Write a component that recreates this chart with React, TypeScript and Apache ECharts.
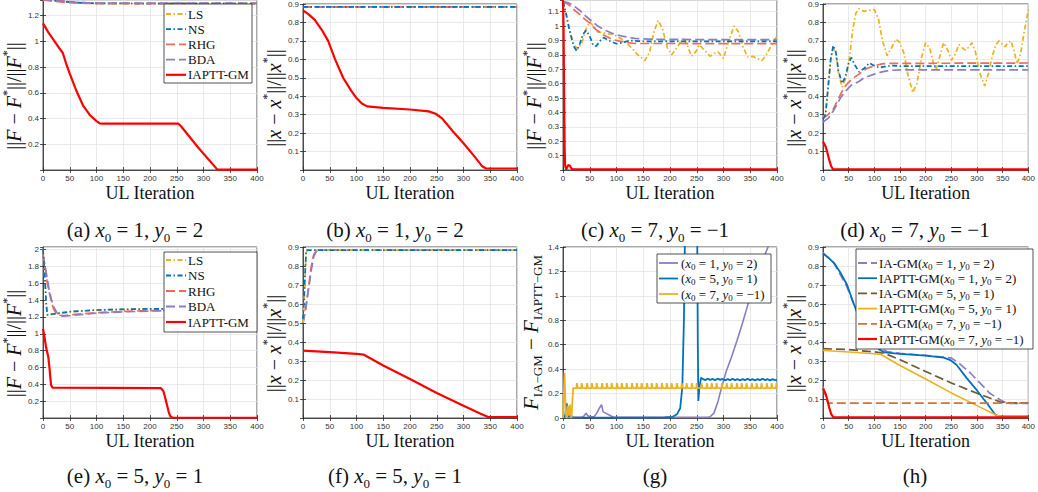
import React, { useEffect, useRef } from "react";
import * as echarts from "echarts";

// ---------- data ----------
const X_MIN = 0;
const X_MAX = 400;
const X_INTERVAL = 50;

// (a) x0=1, y0=2 : ||F-F*||/||F*||
const aLS = [[0, 1.325], [20, 1.318], [40, 1.31], [60, 1.303], [80, 1.299], [100, 1.297], [150, 1.296], [200, 1.295], [400, 1.295]];
const aNS = [[0, 1.325], [20, 1.317], [40, 1.309], [60, 1.302], [80, 1.298], [100, 1.296], [150, 1.295], [200, 1.294], [400, 1.294]];
const aRHG = [[0, 1.322], [20, 1.312], [40, 1.304], [60, 1.299], [80, 1.296], [100, 1.294], [150, 1.293], [400, 1.293]];
const aBDA = [[0, 1.326], [20, 1.32], [40, 1.313], [60, 1.306], [80, 1.301], [100, 1.299], [150, 1.298], [400, 1.297]];
const aIAPTT = [[0, 1.14], [10, 1.07], [20, 1.01], [30, 0.95], [37, 0.91], [43, 0.83], [50, 0.75], [62, 0.62], [75, 0.5], [87, 0.43], [100, 0.38], [106, 0.362], [110, 0.36], [253, 0.36], [258, 0.34], [290, 0.175], [326, 0.003], [400, 0.003]];

// (b) x0=1, y0=2 : ||x-x*||/||x*||
const bLS = [[0, 0.884], [400, 0.884]];
const bNS = [[0, 0.884], [400, 0.884]];
const bRHG = [[0, 0.884], [400, 0.884]];
const bBDA = [[0, 0.884], [400, 0.884]];
const bIAPTT = [[0, 0.865], [10, 0.845], [22, 0.814], [35, 0.76], [47, 0.7], [60, 0.6], [75, 0.5], [90, 0.43], [100, 0.39], [110, 0.36], [120, 0.345], [150, 0.337], [200, 0.328], [235, 0.318], [248, 0.305], [260, 0.28], [280, 0.21], [300, 0.145], [320, 0.075], [335, 0.02], [342, 0.008], [400, 0.008]];

// (c) x0=7, y0=-1 : ||F-F*||/||F*||
const cLS = [[0, 1.17], [5, 1.1], [12, 0.98], [20, 0.87], [28, 0.84], [35, 0.88], [42, 0.97], [50, 1.03], [57, 1.0], [65, 0.96], [80, 0.95], [95, 0.94], [110, 0.91], [125, 0.86], [140, 0.8], [153, 0.76], [162, 0.82], [170, 0.96], [178, 1.04], [186, 0.98], [195, 0.85], [203, 0.8], [213, 0.85], [225, 0.92], [233, 0.86], [240, 0.79], [248, 0.82], [255, 0.87], [265, 0.83], [275, 0.79], [283, 0.81], [290, 0.82], [300, 0.775], [310, 0.9], [320, 1.0], [328, 0.96], [337, 0.85], [345, 0.785], [355, 0.79], [362, 0.775], [372, 0.76], [380, 0.8], [390, 0.87], [400, 0.93]];
const cNS = [[0, 1.17], [5, 1.1], [12, 0.97], [20, 0.86], [25, 0.83], [30, 0.86], [37, 0.94], [43, 0.97], [50, 0.93], [56, 0.87], [62, 0.86], [70, 0.9], [76, 0.92], [85, 0.9], [100, 0.877], [112, 0.885], [125, 0.9], [140, 0.895], [170, 0.893], [400, 0.893]];
const cRHG = [[0, 1.17], [10, 1.15], [20, 1.115], [30, 1.085], [40, 1.05], [50, 1.02], [60, 0.98], [75, 0.94], [90, 0.91], [105, 0.895], [120, 0.885], [135, 0.879], [400, 0.878]];
const cBDA = [[0, 1.17], [9, 1.163], [20, 1.14], [31, 1.11], [42, 1.07], [53, 1.037], [65, 1.0], [81, 0.967], [95, 0.945], [110, 0.93], [134, 0.914], [160, 0.909], [200, 0.907], [400, 0.905]];
const cIAPTT = [[0, 1.18], [1, 1.0], [2, 0.55], [3, 0.15], [4, 0.03], [6, 0.003], [8, 0.02], [10, 0.035], [13, 0.03], [16, 0.008], [20, 0.005], [400, 0.005]];

// (d) x0=7, y0=-1 : ||x-x*||/||x*||
const dLS = [[0, 0.28], [5, 0.31], [10, 0.45], [15, 0.6], [20, 0.66], [25, 0.63], [30, 0.53], [37, 0.45], [45, 0.5], [52, 0.62], [58, 0.76], [64, 0.85], [70, 0.875], [80, 0.86], [90, 0.865], [100, 0.87], [108, 0.82], [116, 0.7], [125, 0.62], [133, 0.66], [142, 0.71], [150, 0.69], [158, 0.63], [165, 0.52], [175, 0.42], [183, 0.47], [192, 0.61], [200, 0.69], [208, 0.66], [215, 0.58], [220, 0.54], [228, 0.62], [235, 0.69], [243, 0.65], [250, 0.595], [258, 0.63], [265, 0.68], [272, 0.66], [278, 0.65], [285, 0.67], [290, 0.69], [297, 0.64], [305, 0.53], [315, 0.455], [322, 0.52], [330, 0.62], [337, 0.68], [343, 0.7], [350, 0.68], [355, 0.668], [360, 0.69], [366, 0.7], [372, 0.65], [378, 0.575], [385, 0.63], [392, 0.75], [400, 0.87]];
const dNS = [[0, 0.276], [5, 0.3], [10, 0.45], [15, 0.6], [20, 0.675], [25, 0.64], [30, 0.54], [37, 0.47], [43, 0.5], [50, 0.58], [55, 0.61], [62, 0.57], [70, 0.532], [80, 0.55], [90, 0.58], [100, 0.565], [110, 0.555], [120, 0.56], [135, 0.566], [150, 0.563], [400, 0.563]];
const dRHG = [[0, 0.28], [10, 0.3], [20, 0.33], [27, 0.37], [37, 0.425], [45, 0.46], [55, 0.49], [70, 0.52], [85, 0.55], [100, 0.565], [115, 0.575], [130, 0.578], [400, 0.58]];
const dBDA = [[0, 0.26], [10, 0.28], [20, 0.32], [35, 0.395], [45, 0.43], [55, 0.46], [70, 0.48], [80, 0.5], [100, 0.52], [115, 0.532], [130, 0.54], [150, 0.543], [400, 0.543]];
const dIAPTT = [[0, 0.155], [5, 0.128], [8, 0.1], [12, 0.056], [16, 0.02], [20, 0.004], [400, 0.003]];

// (e) x0=5, y0=1 : ||F-F*||/||F*||
const eLS = [[0, 2.0], [3, 1.7], [6, 1.35], [8, 1.22], [15, 1.23], [30, 1.24], [50, 1.26], [75, 1.27], [100, 1.28], [150, 1.29], [200, 1.295], [400, 1.3]];
const eNS = [[0, 2.0], [3, 1.72], [6, 1.36], [8, 1.225], [15, 1.232], [30, 1.245], [50, 1.262], [75, 1.272], [100, 1.282], [150, 1.29], [200, 1.296], [400, 1.3]];
const eRHG = [[0, 1.95], [4, 1.78], [8, 1.6], [12, 1.48], [16, 1.37], [20, 1.29], [25, 1.24], [30, 1.22], [40, 1.215], [60, 1.23], [100, 1.25], [150, 1.265], [200, 1.275], [300, 1.285], [400, 1.29]];
const eBDA = [[0, 1.93], [6, 1.73], [12, 1.5], [16, 1.4], [20, 1.32], [27, 1.24], [35, 1.21], [50, 1.215], [75, 1.23], [100, 1.245], [150, 1.26], [200, 1.27], [300, 1.28], [400, 1.285]];
const eIAPTT = [[0, 1.06], [3, 0.95], [6, 0.83], [10, 0.72], [12, 0.6], [15, 0.39], [18, 0.36], [220, 0.355], [225, 0.32], [230, 0.2], [235, 0.07], [238, 0.02], [242, 0.005], [400, 0.003]];

// (f) x0=5, y0=1 : ||x-x*||/||x*||
const fLS = [[0, 0.5], [2, 0.6], [4, 0.75], [6, 0.87], [8, 0.884], [400, 0.884]];
const fNS = [[0, 0.52], [2, 0.62], [4, 0.77], [6, 0.88], [8, 0.884], [400, 0.884]];
const fRHG = [[0, 0.5], [5, 0.58], [10, 0.68], [15, 0.79], [20, 0.86], [25, 0.88], [30, 0.884], [400, 0.884]];
const fBDA = [[0, 0.5], [5, 0.57], [10, 0.67], [15, 0.77], [20, 0.85], [25, 0.877], [30, 0.884], [400, 0.884]];
const fIAPTT = [[0, 0.355], [50, 0.347], [100, 0.338], [113, 0.334], [150, 0.276], [200, 0.205], [250, 0.132], [300, 0.065], [330, 0.025], [345, 0.006], [400, 0.005]];

// (g) F_IA-GM - F_IAPTT-GM
const g12 = [[0, 0.005], [35, 0.005], [40, 0.02], [43, 0.04], [46, 0.02], [50, 0.01], [58, 0.01], [63, 0.04], [68, 0.08], [72, 0.11], [75, 0.05], [80, 0.04], [88, 0.02], [95, 0.005], [270, 0.005], [275, 0.01], [282, 0.04], [290, 0.14], [297, 0.26], [305, 0.38], [315, 0.5], [325, 0.63], [335, 0.77], [345, 0.92], [355, 1.06], [365, 1.19], [375, 1.31], [385, 1.42], [400, 1.6]];
const g51 = [[0, 0.0], [4, 0.02], [7, 0.12], [9, 0.05], [11, 0.01], [13, 0.09], [15, 0.02], [18, 0.005], [100, 0.003], [190, 0.005], [205, 0.01], [213, 0.03], [219, 0.08], [223, 0.25], [226, 0.8], [228, 1.5], [231, 2.2], [249, 2.2], [251, 1.4], [252, 0.6], [253, 0.14], [255, 0.25], [258, 0.33], [262, 0.318], [266, 0.31], [270, 0.322], [275, 0.312], [280, 0.32], [284, 0.31], [289, 0.322], [294, 0.312], [298, 0.32], [303, 0.308], [308, 0.318], [312, 0.31], [317, 0.32], [322, 0.31], [326, 0.318], [331, 0.308], [336, 0.318], [340, 0.31], [345, 0.32], [350, 0.31], [354, 0.318], [359, 0.308], [364, 0.318], [368, 0.31], [373, 0.32], [378, 0.31], [382, 0.318], [387, 0.308], [392, 0.318], [396, 0.31], [400, 0.31]];
const g7m1 = [
  [0, 0], [1, 0.15], [3, 0.37], [4, 0.2], [5, 0.04], [7, 0.0], [9, 0.1], [10, 0.05], [11, 0.02], [13, 0.11], [14, 0.04], [16, 0.0], [17, 0.1], [19, 0.245],
  [25, 0.243], [26, 0.285], [27.5, 0.246], [34, 0.243], [35, 0.285], [36.5, 0.246], [44, 0.243], [45, 0.285], [46.5, 0.246],
  [53, 0.243], [54, 0.285], [55.5, 0.246], [62, 0.243], [63, 0.285], [64.5, 0.246], [72, 0.243], [73, 0.285], [74.5, 0.246],
  [81, 0.243], [82, 0.285], [83.5, 0.246], [90, 0.243], [91, 0.285], [92.5, 0.246], [100, 0.243], [101, 0.285], [102.5, 0.246],
  [109, 0.243], [110, 0.285], [111.5, 0.246], [118, 0.243], [119, 0.285], [120.5, 0.246], [128, 0.243], [129, 0.285], [130.5, 0.246],
  [137, 0.243], [138, 0.285], [139.5, 0.246], [146, 0.243], [147, 0.285], [148.5, 0.246], [156, 0.243], [157, 0.285], [158.5, 0.246],
  [165, 0.243], [166, 0.285], [167.5, 0.246], [174, 0.243], [175, 0.285], [176.5, 0.246], [184, 0.243], [185, 0.285], [186.5, 0.246],
  [193, 0.243], [194, 0.285], [195.5, 0.246], [202, 0.243], [203, 0.285], [204.5, 0.246], [212, 0.243], [213, 0.285], [214.5, 0.246],
  [221, 0.243], [222, 0.285], [223.5, 0.246], [230, 0.243], [231, 0.285], [232.5, 0.246], [240, 0.243], [241, 0.285], [242.5, 0.246],
  [249, 0.243], [250, 0.285], [251.5, 0.246], [258, 0.243], [259, 0.285], [260.5, 0.246], [268, 0.243], [269, 0.285], [270.5, 0.246],
  [277, 0.243], [278, 0.285], [279.5, 0.246], [286, 0.243], [287, 0.285], [288.5, 0.246], [296, 0.243], [297, 0.285], [298.5, 0.246],
  [305, 0.243], [306, 0.285], [307.5, 0.246], [314, 0.243], [315, 0.285], [316.5, 0.246], [324, 0.243], [325, 0.285], [326.5, 0.246],
  [333, 0.243], [334, 0.285], [335.5, 0.246], [342, 0.243], [343, 0.285], [344.5, 0.246], [352, 0.243], [353, 0.285], [354.5, 0.246],
  [361, 0.243], [362, 0.285], [363.5, 0.246], [370, 0.243], [371, 0.285], [372.5, 0.246], [380, 0.243], [381, 0.285], [382.5, 0.246],
  [389, 0.243], [390, 0.285], [391.5, 0.246], [398, 0.243], [399, 0.285], [400, 0.25],
];

// (h) ||x-x*||/||x*|| comparisons
const hIA12 = [[0, 0.87], [20, 0.82], [45, 0.7], [60, 0.6], [75, 0.5], [90, 0.43], [100, 0.39], [110, 0.365], [125, 0.35], [150, 0.34], [200, 0.33], [250, 0.316], [266, 0.286], [287, 0.237], [306, 0.184], [325, 0.13], [344, 0.097], [359, 0.077], [400, 0.077]];
const hPT12 = bIAPTT;
const hIA51 = [[0, 0.365], [50, 0.36], [100, 0.348], [120, 0.34], [150, 0.307], [200, 0.245], [250, 0.184], [300, 0.13], [325, 0.105], [345, 0.085], [356, 0.08], [400, 0.08]];
const hPT51 = fIAPTT;
const hIA7 = [[0, 0.165], [4, 0.13], [8, 0.09], [10, 0.078], [400, 0.078]];
const hPT7 = dIAPTT;

// ---------- styles ----------
const C_LS = "#EDB120";
const C_NS = "#0072BD";
const C_RHG = "#EF6B57";
const C_BDA = "#8D7CC4";
const C_RED = "#FF0000";
const C_BROWN = "#6E5A36";
const C_ORANGE = "#D5723A";
const DASHDOT = [5, 2.5, 1.5, 2.5];
const DASHED = [9, 4];
const SERIF = "Liberation Serif";
const SANS = "Liberation Sans";

const PANELS = [
  { left: 43, top: 0, h: 170, yMax: 1.322, yInt: 0.2, showMax: false, showMin: false, yName: "F" },
  { left: 303, top: 0, h: 170, yMax: 0.9, yInt: 0.1, showMax: true, showMin: false, yName: "x" },
  { left: 563, top: 0, h: 170, yMax: 1.181, yInt: 0.1, showMax: false, showMin: false, yName: "F" },
  { left: 823, top: 0, h: 170, yMax: 0.9, yInt: 0.1, showMax: true, showMin: false, yName: "x" },
  { left: 43, top: 247, h: 171, yMax: 2.03, yInt: 0.2, showMax: false, showMin: false, yName: "F" },
  { left: 303, top: 247, h: 171, yMax: 0.9, yInt: 0.1, showMax: true, showMin: false, yName: "x" },
  { left: 563, top: 247, h: 171, yMax: 1.4, yInt: 0.2, showMax: true, showMin: true, yName: "g" },
  { left: 823, top: 247, h: 171, yMax: 0.9, yInt: 0.1, showMax: true, showMin: false, yName: "x" },
];
const PANEL_W = 214;

const CAPTIONS = [
  "{n|(a) }{i|x}{b|0}{n| = 1, }{i|y}{b|0}{n| = 2}",
  "{n|(b) }{i|x}{b|0}{n| = 1, }{i|y}{b|0}{n| = 2}",
  "{n|(c) }{i|x}{b|0}{n| = 7, }{i|y}{b|0}{n| = −1}",
  "{n|(d) }{i|x}{b|0}{n| = 7, }{i|y}{b|0}{n| = −1}",
  "{n|(e) }{i|x}{b|0}{n| = 5, }{i|y}{b|0}{n| = 1}",
  "{n|(f) }{i|x}{b|0}{n| = 5, }{i|y}{b|0}{n| = 1}",
  "{n|(g)}",
  "{n|(h)}",
];

const Y_NAMES: Record<string, string> = {
  F: "{n|||}{i|F}{n| − }{i|F}{s|*}{n|||/||}{i|F}{s|*}{n|||}",
  x: "{n|||}{i|x}{n| − }{i|x}{s|*}{n|||/||}{i|x}{s|*}{n|||}",
  g: "{i|F}{b|IA−GM}{n| − }{i|F}{b|IAPTT−GM}",
};

const TXT = "#111111";
const AX = "#262626";
const mathRich = (fs: number, sub: number, lh: number) => ({
  n: { fontFamily: SERIF, fontSize: fs, lineHeight: lh, color: TXT, fill: TXT },
  i: { fontFamily: SERIF, fontStyle: "italic", fontSize: fs, lineHeight: lh, color: TXT, fill: TXT },
  s: { fontFamily: SERIF, fontSize: sub, lineHeight: sub + 3, verticalAlign: "top", color: TXT, fill: TXT },
  b: { fontFamily: SERIF, fontSize: sub, lineHeight: sub + 3, verticalAlign: "bottom", color: TXT, fill: TXT },
});

const line = (data: number[][], gi: number, color: string, dash: any, width = 1.7) => ({
  type: "line",
  xAxisIndex: gi,
  yAxisIndex: gi,
  data,
  symbol: "none",
  showSymbol: false,
  silent: true,
  clip: true,
  lineStyle: { color, width, type: dash },
});

type Row = { text: string; color: string; dash: any; width?: number };
const LZ = 100;
const legend = (bx: number, by: number, bw: number, bh: number, rowY0: number, rowStep: number, lx0: number, lx1: number, tx: number, rows: Row[]) => {
  const children: any[] = [
    { type: "rect", z: LZ, shape: { x: bx, y: by, width: bw, height: bh }, style: { fill: "#ffffff", stroke: AX, lineWidth: 0.8 } },
  ];
  rows.forEach((r, k) => {
    const y = rowY0 + k * rowStep;
    children.push({
      type: "line",
      z: LZ + 1,
      shape: { x1: lx0, y1: y, x2: lx1, y2: y },
      style: { stroke: r.color, lineWidth: r.width ?? 1.8, lineDash: r.dash === "solid" ? null : r.dash },
    });
    children.push({
      type: "text",
      z: LZ + 1,
      x: tx,
      y,
      style: { text: r.text, rich: mathRich(13, 9, 16), fill: TXT, font: `13px ${SERIF}`, align: "left", verticalAlign: "middle" },
    });
  });
  return { type: "group", z: LZ, children };
};

const methodRows = (): Row[] => [
  { text: "{n|LS}", color: C_LS, dash: DASHDOT },
  { text: "{n|NS}", color: C_NS, dash: DASHDOT },
  { text: "{n|RHG}", color: C_RHG, dash: DASHED },
  { text: "{n|BDA}", color: C_BDA, dash: DASHED },
  { text: "{n|IAPTT-GM}", color: C_RED, dash: "solid", width: 2.2 },
];

export default function App() {
  const ref = useRef<HTMLDivElement>(null);
  useEffect(() => {
    if (!ref.current) return;
    const chart = echarts.init(ref.current, undefined, { renderer: "svg" });

    const grid = PANELS.map((p) => ({
      left: p.left, top: p.top, width: PANEL_W, height: p.h,
      show: true, borderColor: AX, borderWidth: 0.8, backgroundColor: "#ffffff", containLabel: false,
    }));
    const tick = { show: true, inside: true, length: 3, lineStyle: { color: AX, width: 0.8 } };
    const xAxis: any[] = PANELS.map((p, i) => ({
      type: "value", gridIndex: i, min: X_MIN, max: X_MAX, interval: X_INTERVAL,
      axisLine: { show: true, onZero: false, lineStyle: { color: AX, width: 0.8 } },
      axisTick: tick,
      axisLabel: { fontFamily: SANS, fontSize: 8, color: "#333333", margin: 4 },
      splitLine: { show: true, lineStyle: { color: "#e3e3e3", width: 0.8 } },
      name: "UL Iteration", nameLocation: "middle", nameGap: 14,
      nameTextStyle: { fontFamily: SERIF, fontSize: 18, color: TXT },
    }));
    const yAxis: any[] = PANELS.map((p, i) => ({
      type: "value", gridIndex: i, min: 0, max: p.yMax, interval: p.yInt,
      axisLine: { show: true, onZero: false, lineStyle: { color: AX, width: 0.8 } },
      axisTick: tick,
      axisLabel: { fontFamily: SANS, fontSize: 8, color: "#333333", margin: 4, showMinLabel: p.showMin, showMaxLabel: p.showMax },
      splitLine: { show: true, lineStyle: { color: "#e3e3e3", width: 0.8 } },
      name: Y_NAMES[p.yName], nameLocation: "middle", nameRotate: 90, nameGap: p.yName === "g" ? 12 : 13,
      nameTextStyle: p.yName === "g"
        ? { rich: mathRich(21, 13, 26), padding: 0 }
        : { rich: mathRich(20, 12, 26), padding: [0, 22, 0, 0] },
    }));
    // mirrored tick marks on the top and right edges (box style)
    PANELS.forEach((p, i) => {
      xAxis.push({
        type: "value", gridIndex: i, position: "top", min: X_MIN, max: X_MAX, interval: X_INTERVAL,
        axisLine: { show: false }, axisTick: tick, axisLabel: { show: false }, splitLine: { show: false },
      });
      yAxis.push({
        type: "value", gridIndex: i, position: "right", min: 0, max: p.yMax, interval: p.yInt,
        axisLine: { show: false }, axisTick: tick, axisLabel: { show: false }, splitLine: { show: false },
      });
    });

    const series: any[] = [
      line(aLS, 0, C_LS, DASHDOT), line(aNS, 0, C_NS, DASHDOT), line(aRHG, 0, C_RHG, DASHED), line(aBDA, 0, C_BDA, DASHED), line(aIAPTT, 0, C_RED, "solid", 2.2),
      line(bLS, 1, C_LS, DASHDOT), line(bBDA, 1, C_BDA, DASHED), line(bRHG, 1, C_RHG, DASHED), line(bNS, 1, C_NS, DASHDOT), line(bIAPTT, 1, C_RED, "solid", 2.2),
      line(cLS, 2, C_LS, DASHDOT), line(cRHG, 2, C_RHG, DASHED), line(cBDA, 2, C_BDA, DASHED), line(cNS, 2, C_NS, DASHDOT), line(cIAPTT, 2, C_RED, "solid", 2.2),
      line(dLS, 3, C_LS, DASHDOT), line(dRHG, 3, C_RHG, DASHED), line(dBDA, 3, C_BDA, DASHED), line(dNS, 3, C_NS, DASHDOT), line(dIAPTT, 3, C_RED, "solid", 2.2),
      line(eRHG, 4, C_RHG, DASHED), line(eBDA, 4, C_BDA, DASHED), line(eLS, 4, C_LS, DASHDOT), line(eNS, 4, C_NS, DASHDOT), line(eIAPTT, 4, C_RED, "solid", 2.2),
      line(fRHG, 5, C_RHG, DASHED), line(fBDA, 5, C_BDA, DASHED), line(fLS, 5, C_LS, DASHDOT), line(fNS, 5, C_NS, DASHDOT), line(fIAPTT, 5, C_RED, "solid", 2.2),
      line(g12, 6, C_BDA, "solid", 1.6), line(g51, 6, C_NS, "solid", 1.8), line(g7m1, 6, C_LS, "solid", 1.8),
      line(hIA12, 7, C_BDA, DASHED), line(hPT12, 7, C_NS, "solid", 1.8), line(hIA51, 7, C_BROWN, DASHED), line(hPT51, 7, C_LS, "solid", 1.6),
      line(hIA7, 7, C_ORANGE, DASHED), line(hPT7, 7, C_RED, "solid", 2.2),
    ];

    const captionEls = PANELS.map((p, i) => ({
      type: "text",
      z: LZ,
      x: p.left + PANEL_W / 2 - 15,
      y: p.top === 0 ? 230 : 476,
      style: { text: CAPTIONS[i], rich: mathRich(21, 13, 28), fill: TXT, font: `21px ${SERIF}`, align: "center", verticalAlign: "middle" },
    }));

    const legends = [
      legend(164, 4, 88, 79, 14, 15.2, 166, 186, 188, methodRows()),
      legend(164, 252, 93, 80, 260, 15.5, 166, 186, 188, methodRows()),
      legend(657, 254, 114, 49, 263, 15.5, 659, 678, 681, [
        { text: "{n|(}{i|x}{b|0}{n| = 1, }{i|y}{b|0}{n| = 2)}", color: C_BDA, dash: "solid" },
        { text: "{n|(}{i|x}{b|0}{n| = 5, }{i|y}{b|0}{n| = 1)}", color: C_NS, dash: "solid" },
        { text: "{n|(}{i|x}{b|0}{n| = 7, }{i|y}{b|0}{n| = −1)}", color: C_LS, dash: "solid" },
      ]),
      legend(856, 249, 177, 100, 263, 15.2, 858, 877, 879, [
        { text: "{n|IA-GM(}{i|x}{b|0}{n| = 1, }{i|y}{b|0}{n| = 2)}", color: C_BDA, dash: DASHED },
        { text: "{n|IAPTT-GM(}{i|x}{b|0}{n| = 1, }{i|y}{b|0}{n| = 2)}", color: C_NS, dash: "solid" },
        { text: "{n|IA-GM(}{i|x}{b|0}{n| = 5, }{i|y}{b|0}{n| = 1)}", color: C_BROWN, dash: DASHED },
        { text: "{n|IAPTT-GM(}{i|x}{b|0}{n| = 5, }{i|y}{b|0}{n| = 1)}", color: C_LS, dash: "solid" },
        { text: "{n|IA-GM(}{i|x}{b|0}{n| = 7, }{i|y}{b|0}{n| = −1)}", color: C_ORANGE, dash: DASHED },
        { text: "{n|IAPTT-GM(}{i|x}{b|0}{n| = 7, }{i|y}{b|0}{n| = −1)}", color: C_RED, dash: "solid", width: 2.2 },
      ]),
    ];

    chart.setOption({
      animation: false,
      backgroundColor: "#ffffff",
      grid,
      xAxis,
      yAxis,
      series,
      graphic: [...captionEls, ...legends],
    });
    return () => chart.dispose();
  }, []);

  return <div ref={ref} style={{ position: "absolute", left: 0, top: 0, width: 1038, height: 492 }} />;
}
